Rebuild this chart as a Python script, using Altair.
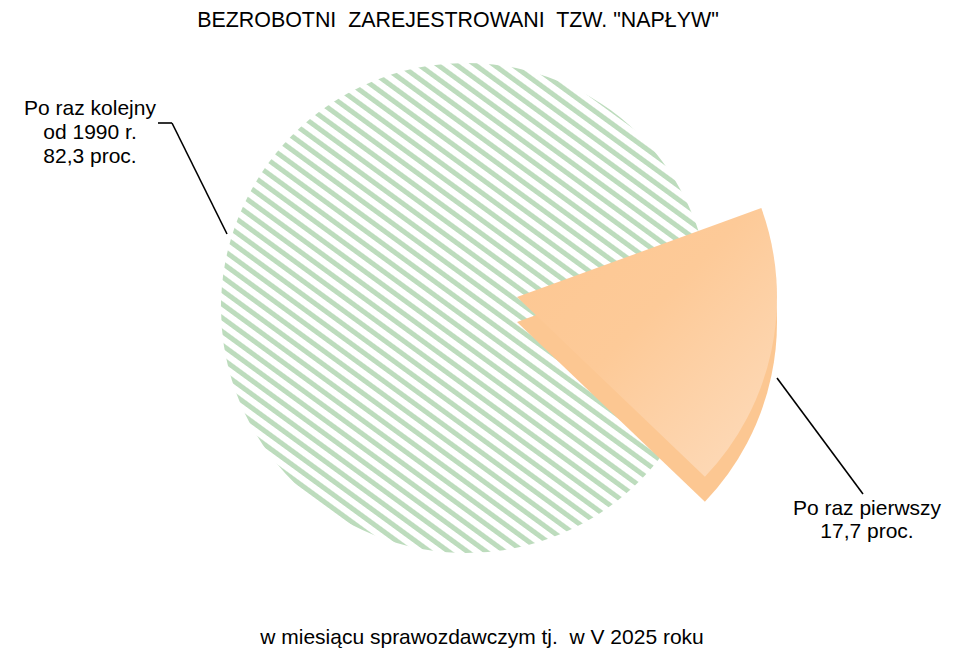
import math
import altair as alt
import pandas as pd

# ---- data ----
categories = ["Po raz pierwszy", "Po raz kolejny"]
shares = [17.7, 82.3]
order_idx = [0, 1]
title_text = "BEZROBOTNI\u00a0 ZAREJESTROWANI\u00a0 TZW. \"NAPŁYW\""
subtitle_text = "w miesiącu sprawozdawczym tj.\u00a0 w V 2025 roku"
label_first_lines = ["Po raz pierwszy"]
label_next_lines = ["Po raz kolejny", "od 1990 r."]


def pct(v):
    return f"{v:.1f}".replace(".", ",") + " proc."


df = pd.DataFrame({"cat": categories, "val": shares, "ord": order_idx})

start = math.radians(70)
theta_scale = alt.Scale(range=[start, start + 2 * math.pi])
theta_enc = alt.Theta("val:Q", stack=True, scale=theta_scale)
order_enc = alt.Order("ord:Q")

FONT = "Liberation Sans"

# striped fill for the green part (gradient with sharp bands)
GREEN = "#bddcbd"
n_per = 62
stops = []
for k in range(n_per):
    b = k / n_per
    p = 1 / n_per
    stops += [
        alt.GradientStop(color="white", offset=b),
        alt.GradientStop(color=GREEN, offset=b + 0.08 * p),
        alt.GradientStop(color=GREEN, offset=b + 0.44 * p),
        alt.GradientStop(color="white", offset=b + 0.54 * p),
    ]
stripes = alt.LinearGradient(gradient="linear", stops=stops,
                             x1=0, y1=1, x2=0.824, y2=-0.1286)

orange_grad = alt.LinearGradient(
    gradient="linear",
    stops=[alt.GradientStop(color="#fdc792", offset=0.0),
           alt.GradientStop(color="#fdca98", offset=0.45),
           alt.GradientStop(color="#fddcbd", offset=1.0)],
    x1=0, y1=0, x2=1, y2=1)

base = alt.Chart(df)

# hatched green disc: the whole (100 %), the 82,3 % part shows around the pulled-out slice
green = base.transform_aggregate(total="sum(val)").mark_arc(
    color=stripes, outerRadius=245, x=458, y=300).encode(
    theta=alt.Theta("total:Q", scale=theta_scale),
)

orange_side = base.mark_arc(color="#fcc792", outerRadius=260, x=509, y=314).encode(
    theta=theta_enc, order=order_enc,
    opacity=alt.condition(alt.datum.ord == 0, alt.value(1), alt.value(0)),
)

orange_top = base.mark_arc(color=orange_grad, outerRadius=260, x=509, y=289).encode(
    theta=theta_enc, order=order_enc,
    opacity=alt.condition(alt.datum.ord == 0, alt.value(1), alt.value(0)),
)

one = pd.DataFrame({"k": [0]})

title = alt.Chart(one).mark_text(text=title_text, font=FONT, fontSize=21.4,
                                 align="center", baseline="alphabetic").encode(
    x=alt.value(450), y=alt.value(19))

subtitle = alt.Chart(one).mark_text(text=subtitle_text, font=FONT, fontSize=21,
                                    align="center", baseline="alphabetic").encode(
    x=alt.value(474), y=alt.value(636))

lab_next = alt.Chart(one).mark_text(
    text=label_next_lines + [pct(shares[1])], font=FONT, fontSize=21,
    lineHeight=24, align="center", baseline="alphabetic").encode(
    x=alt.value(82), y=alt.value(107))

lab_first = alt.Chart(one).mark_text(
    text=label_first_lines + [pct(shares[0])], font=FONT, fontSize=21,
    lineHeight=23, align="center", baseline="alphabetic").encode(
    x=alt.value(859), y=alt.value(507))

rule_style = dict(color="black", strokeWidth=1.6)
r1 = alt.Chart(one).mark_rule(**rule_style).encode(
    x=alt.value(150), x2=alt.value(164), y=alt.value(115), y2=alt.value(115))
r2 = alt.Chart(one).mark_rule(**rule_style).encode(
    x=alt.value(164), x2=alt.value(219), y=alt.value(115), y2=alt.value(226))
r3 = alt.Chart(one).mark_rule(**rule_style).encode(
    x=alt.value(769), x2=alt.value(855), y=alt.value(370), y2=alt.value(486))

chart = alt.layer(green, orange_side, orange_top, r1, r2, r3,
                  title, subtitle, lab_next, lab_first).properties(
    width=940, height=642, padding=0,
    autosize=alt.AutoSizeParams(type="none"),
).configure_view(strokeWidth=0)

chart.save("out.html", embed_options={"renderer": "svg", "actions": False})
